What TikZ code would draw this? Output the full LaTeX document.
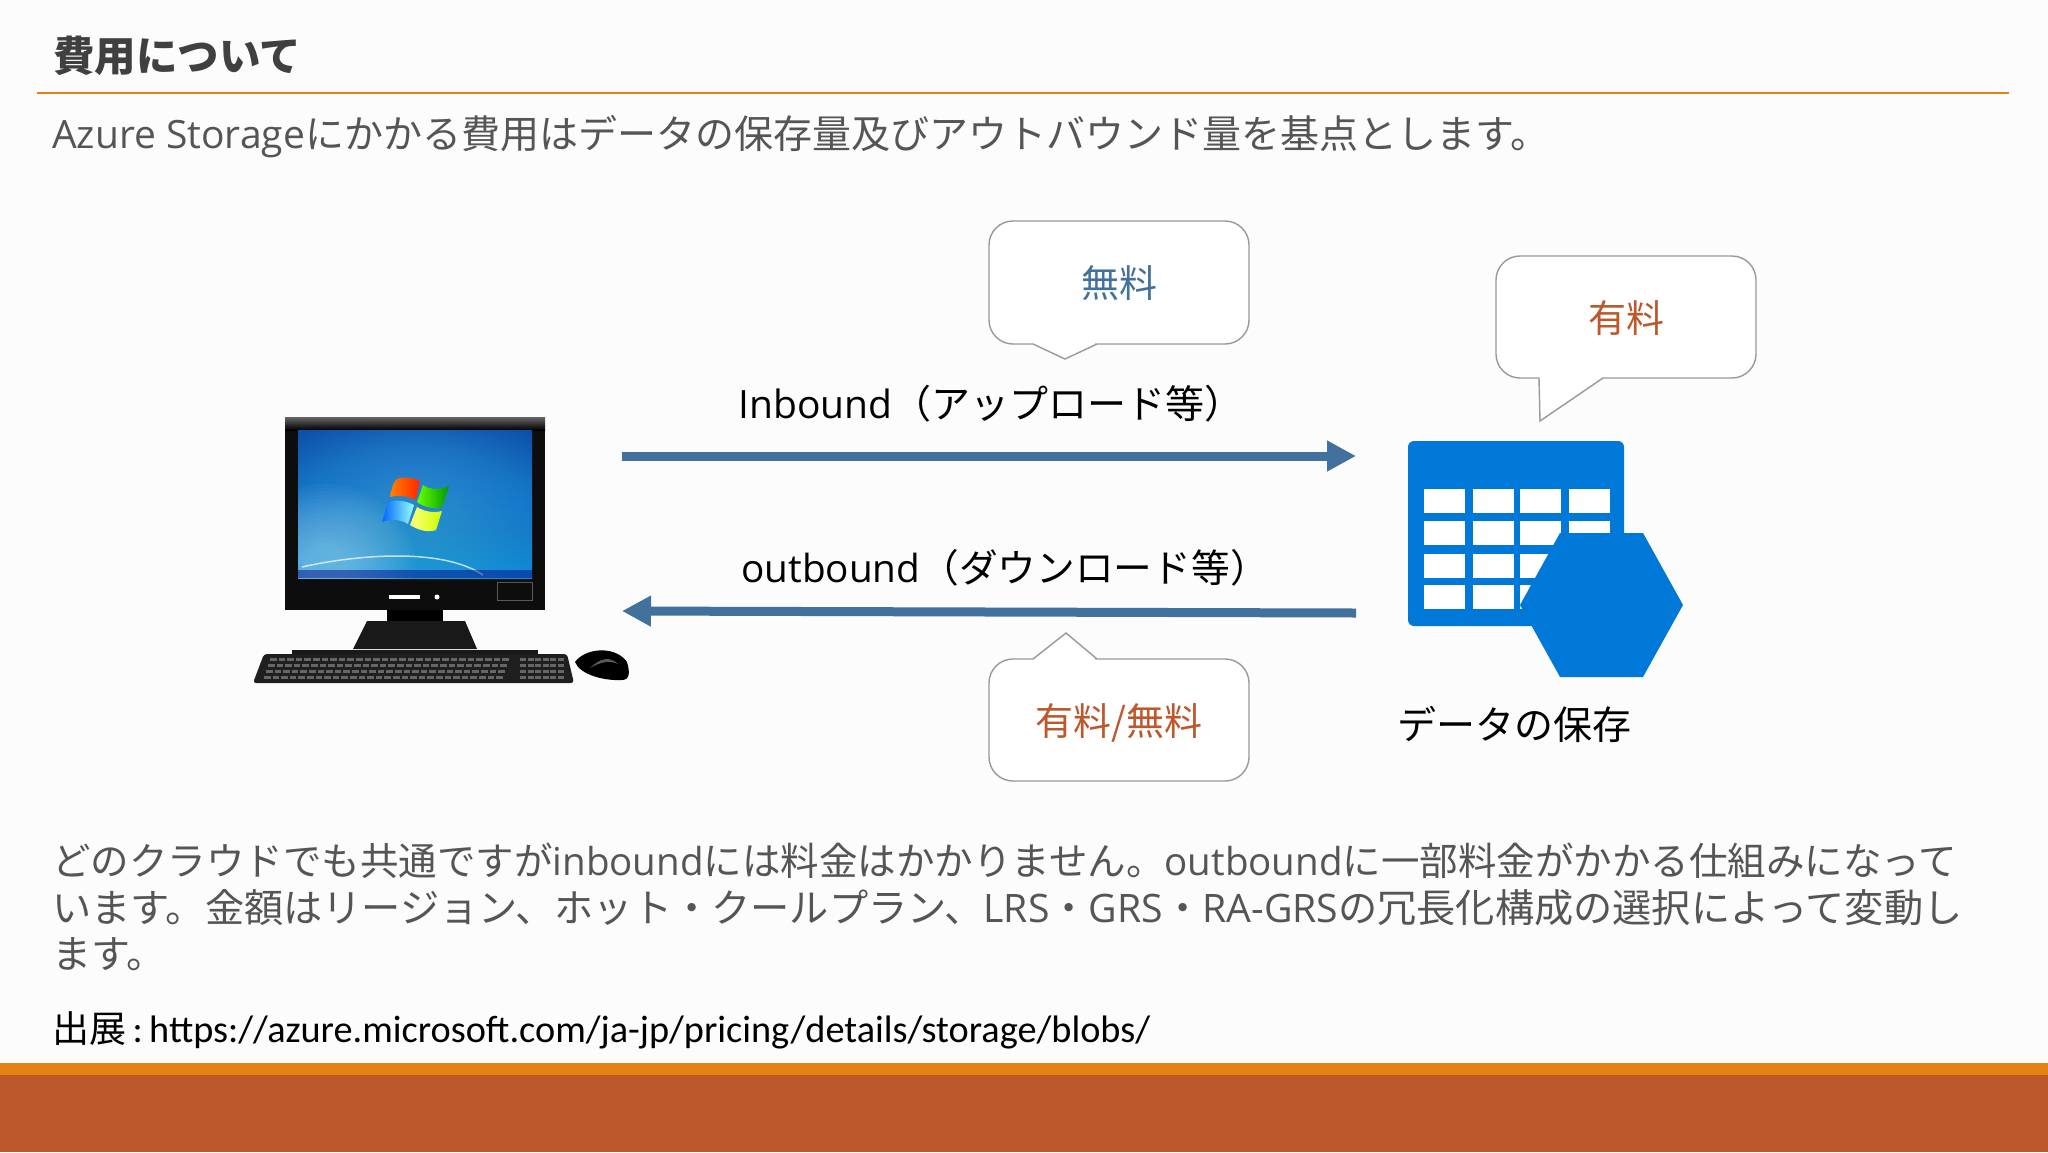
\documentclass[tikz,border=0pt]{standalone}
\usepackage{fontspec}
\setmainfont{Noto Sans CJK JP}
\newfontfamily\latfont{Open Sans}
\newfontfamily\srcfont{Carlito}
\usetikzlibrary{arrows.meta, positioning, calc}
\definecolor{rust}{HTML}{BD582C}
\definecolor{amber}{HTML}{E48312}
\definecolor{steel}{HTML}{41719C}
\definecolor{greytext}{HTML}{555555}
\definecolor{azure}{HTML}{0078D7}
\definecolor{screentop}{HTML}{0A48A8}
\definecolor{screenlow}{HTML}{0A86D6}
\newcommand{\lat}[1]{{\latfont #1}}
\tikzset{
	x=1pt, y=-1pt,
	line/.style = {anchor=west, inner sep=0, text=greytext, font=\fontsize{39}{39}\selectfont},
	label/.style = {inner sep=0, text=black, font=\fontsize{39}{39}\selectfont},
	bubble/.style = {draw=black!40, line width=1.4pt, fill=white},
	price/.style = {inner sep=0, font=\fontsize{38}{38}\selectfont},
	flow/.style = {line width=9pt, draw=steel, -{Triangle[length=29pt,width=29pt]}},
	cell/.style = {fill=white},
	azureshape/.style = {fill=azure}
}
\begin{document}
\begin{tikzpicture}
	\useasboundingbox (0,0) rectangle (2048,1152);
	\fill[white!99!black] (0,0) rectangle (2048,1152);
	
	\node at (53,56) (title) [line, text=black!75, font=\fontsize{41.5}{41.5}\selectfont\bfseries] {費用について};
	\draw[amber, line width=2pt] (37,93) -- (2009,93);
	\node at (52,137) (intro) [line] {\lat{Azure Storage}にかかる費用はデータの保存量及びアウトバウンド量を基点とします。};
	
	% monitor
	\fill[black!95] (285,417) rectangle (545,610);
	\shade[top color=black!60, bottom color=black] (285,417) rectangle (545,430);
	\begin{scope}
		\clip (298,430) rectangle (532,578);
		\shade[top color=screentop, bottom color=screenlow] (298,430) rectangle (532,578);
		\foreach \r in {130,126,...,30}
			\fill[cyan!70!white, opacity=.025] (415,510) ellipse ({\r*1.25} and \r);
		\foreach \r in {90,86,...,20}
			\fill[cyan!25!white, opacity=.035] (325,565) ellipse ({\r} and {\r*.9});
		\draw[white, opacity=.7, line width=1.5pt] (302,567) .. controls (350,556) and (440,546) .. (483,575);
		\fill[blue!50!black, opacity=.45] (298,570) rectangle (532,578);
	\end{scope}
	\shade[left color=orange, right color=red!70!orange] (390,497) .. controls (392,485) and (395,478) .. (400,478) .. controls (408,477) and (415,478) .. (420,481) -- (416,500) .. controls (408,496) and (398,495) .. (390,497) -- cycle;
	\shade[left color=green!60!yellow, right color=green!60!black] (423,485) .. controls (430,490) and (440,490) .. (449,486) -- (442,507) .. controls (434,510) and (424,507) .. (417,502) -- cycle;
	\shade[left color=blue!60!cyan, right color=cyan!40!white] (388,502) .. controls (396,499) and (406,501) .. (414,505) -- (408,524) .. controls (400,519) and (390,519) .. (382,522) -- cycle;
	\shade[left color=yellow!50!white, right color=yellow!80!green] (417,507) .. controls (425,512) and (434,513) .. (442,511) -- (436,530) .. controls (428,533) and (418,530) .. (410,525) -- cycle;
	\fill[white] (389,595) rectangle (420,599);
	\fill[white] (437,597) circle (2.5);
	\draw[black!65, line width=.6pt] (497,582) rectangle (532,600);
	\fill[black] (387,610) rectangle (443,622);
	\fill[black!90] (367,621) -- (465,621) -- (477,649) -- (353,649) -- cycle;
	
	% keyboard
	\fill[black!90] (292,650) rectangle (538,656);
	\fill[black!88, rounded corners=3] (264,654) -- (567,654) -- (574,683) -- (253,683) -- cycle;
	\foreach \r in {0,...,3}
		\foreach \k in {0,...,27}
			\fill[black!60] ({270+\r*-2+\k*8.6},{658+\r*6}) rectangle +(6.5,3.4);
	\foreach \r in {0,...,3}
		\foreach \k in {0,...,5}
			\fill[black!60] ({520+\k*7.5},{658+\r*6}) rectangle +(6,3.4);
	\fill[black] (575,662) .. controls (585,648) and (615,645) .. (627,662) .. controls (630,672) and (630,680) .. (622,680) .. controls (605,681) and (580,675) .. (575,662) -- cycle;
	\fill[black!65] (590,668) .. controls (600,658) and (610,656) .. (618,664) .. controls (610,660) and (600,662) .. (590,668) -- cycle;
	
	% storage icon
	\fill[azureshape, rounded corners=6] (1408,441) rectangle (1624,626);
	\foreach \cx in {1424,1473,1520,1569}
		\foreach \cy in {489,521,554,585}
			\fill[cell] (\cx,\cy) rectangle +(41,24);
	\fill[azureshape] (1560,533) -- (1643,533) -- (1683,605) -- (1643,677) -- (1560,677) -- (1520,605) -- cycle;
	\node at (1514,724) (store) [label] {データの保存};
	
	% callouts
	\draw[bubble] (1119,344) -- (1097,344) -- (1065,359) -- (1033,344) -- (1015,344) [rounded corners=24] -- (989,344) -- (989,221) -- (1249,221) -- (1249,344) -- cycle;
	\node at (1119,283) (free) [price, text=steel] {無料};
	\draw[bubble] (1119,659) -- (1097,659) -- (1066,633) -- (1033,659) -- (1015,659) [rounded corners=24] -- (989,659) -- (989,781) -- (1249,781) -- (1249,659) -- cycle;
	\node at (1119,723) (mixed) [price, text=rust] {有料/無料};
	\draw[bubble] (1626,378) -- (1603,378) -- (1540,421) -- (1539,378) -- (1522,378) [rounded corners=24] -- (1496,378) -- (1496,256) -- (1756,256) -- (1756,378) -- cycle;
	\node at (1626,318) (paid) [price, text=rust] {有料};
	
	% transfer arrows
	\coordinate (pcin) at (622,456);
	\coordinate (storein) at (1356,456);
	\coordinate (storeout) at (1356,613);
	\coordinate (pcout) at (622,611);
	\path
	(pcin) edge[flow] (storein)
	(storeout) edge[flow] (pcout);
	\node at (991,404) (inbound) [label] {\lat{Inbound}（アップロード等）};
	\node at (1005,568) (outbound) [label, font=\fontsize{38.7}{38.7}\selectfont] {\lat{outbound}（ダウンロード等）};
	
	\node at (52,861) (body1) [line, font=\fontsize{38.5}{38.5}\selectfont] {どのクラウドでも共通ですが\lat{inbound}には料金はかかりません。\lat{outbound}に一部料金がかかる仕組みになって};
	\node at (52,908) (body2) [line, font=\fontsize{39.2}{39.2}\selectfont] {います。金額はリージョン、ホット・クールプラン、\lat{LRS}・\lat{GRS}・\lat{RA-GRS}の冗長化構成の選択によって変動し};
	\node at (52,954) (body3) [line] {ます。};
	\node at (52,1030) (source) [line, text=black, font=\fontsize{37}{37}\selectfont] {出展{\srcfont\fontsize{38.3}{38.3}\selectfont\,:\,https://azure.microsoft.com/ja-jp/pricing/details/storage/blobs/}};
	
	\fill[amber] (0,1063) rectangle (2048,1075);
	\fill[rust] (0,1075) rectangle (2048,1152);
\end{tikzpicture}
\end{document}
